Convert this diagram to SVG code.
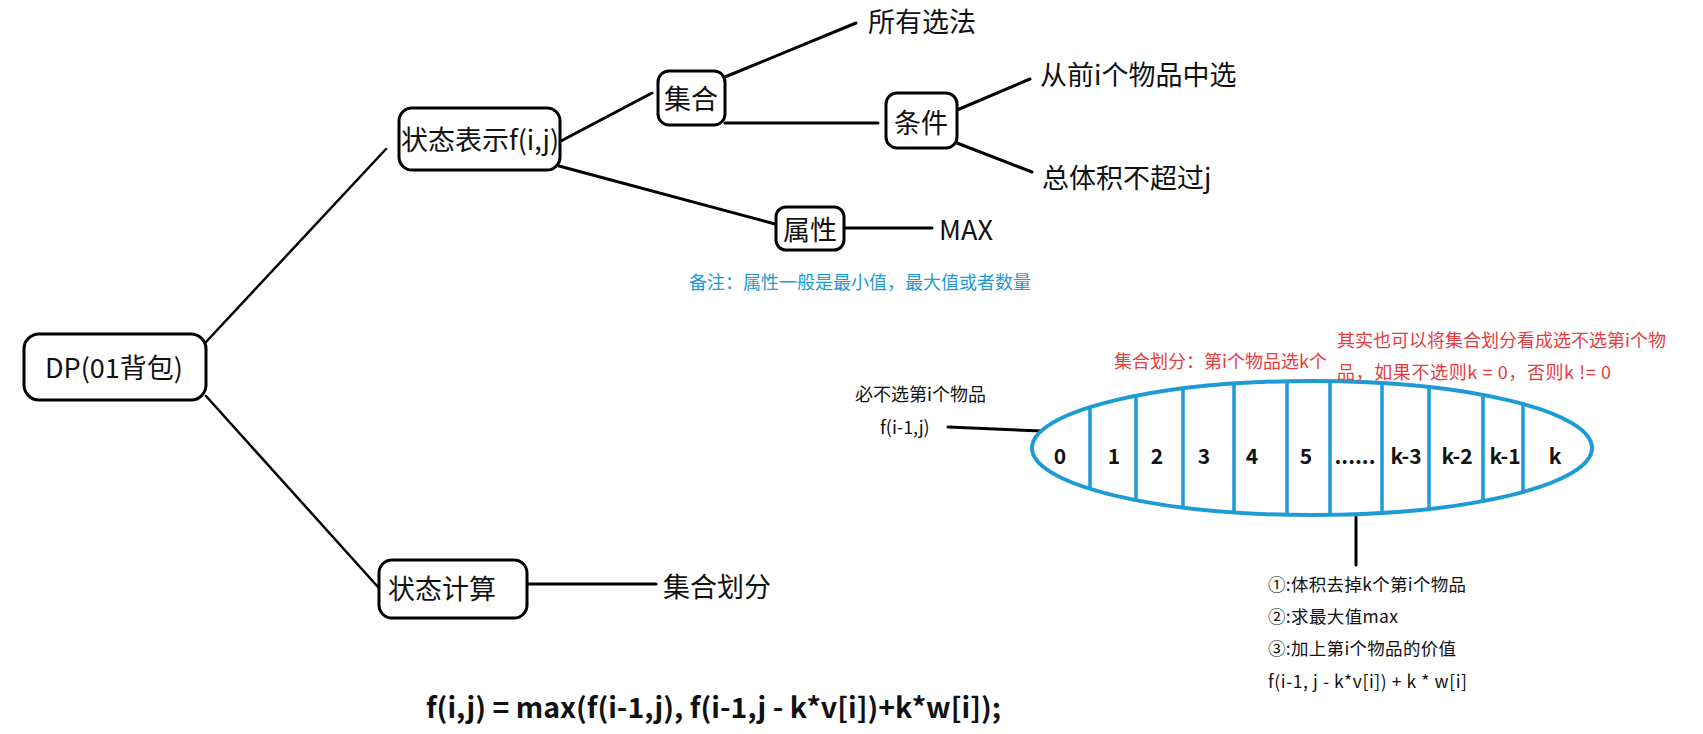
<svg xmlns="http://www.w3.org/2000/svg" width="1703" height="734" viewBox="0 0 1703 734">
<style>
text{font-family:"Noto Sans CJK SC","Noto Sans",sans-serif;dominant-baseline:central;fill:#111}
.box{fill:#fff;stroke:#000;stroke-width:3}
.big{font-size:27px}
.mid{font-size:18px}
.sm{font-size:17.5px}
.blue{fill:#1e9ad6}
.red{fill:#e53c3f}
.num{font-size:21px;font-weight:bold;text-anchor:middle}
.c{text-anchor:middle}
.ln{stroke:#000;stroke-width:3;fill:none;stroke-linecap:round}
.thin{stroke-width:2.5}
.bl{stroke:#1e9ad6;stroke-width:3.5;fill:none}
</style>
<defs>
<clipPath id="ell"><ellipse cx="1312" cy="448" rx="280" ry="67"/></clipPath>
</defs>
<rect width="1703" height="734" fill="#fff"/>
<g id="connectors">
<line class="ln thin" x1="206" y1="342" x2="386" y2="149"/>
<line class="ln thin" x1="206" y1="396" x2="378" y2="587"/>
<line class="ln" x1="559" y1="142" x2="652" y2="93"/>
<line class="ln" x1="559" y1="166" x2="775" y2="224"/>
<line class="ln" x1="725" y1="77" x2="856" y2="23"/>
<line class="ln" x1="725" y1="123" x2="878" y2="123"/>
<line class="ln" x1="957" y1="110" x2="1030" y2="79"/>
<line class="ln" x1="957" y1="143" x2="1032" y2="172"/>
<line class="ln" x1="844" y1="228" x2="932" y2="228"/>
<line class="ln" x1="527" y1="584" x2="656" y2="584"/>
<line class="ln" stroke-width="4" x1="948" y1="427" x2="1042" y2="431"/>
<line class="ln" stroke-width="4" x1="1356" y1="517" x2="1356" y2="565"/>
</g>
<g id="n-dp">
<rect class="box" x="24" y="334" width="182" height="66" rx="15"/>
<text class="big c" x="114" y="366">DP(01背包)</text>
</g>
<g id="n-state">
<rect class="box" x="399" y="108" width="161" height="62" rx="13"/>
<text class="big c" x="480" y="138">状态表示f(i,j)</text>
</g>
<g id="n-set">
<rect class="box" x="658" y="71" width="67" height="54" rx="11"/>
<text class="big c" x="691" y="97">集合</text>
</g>
<g id="n-all">
<text class="big" x="868" y="20">所有选法</text>
</g>
<g id="n-cond">
<rect class="box" x="886" y="93" width="71" height="55" rx="11"/>
<text class="big c" x="921" y="121">条件</text>
</g>
<g id="n-front">
<text class="big" x="1040" y="73">从前i个物品中选</text>
</g>
<g id="n-vol">
<text class="big" x="1042" y="176">总体积不超过j</text>
</g>
<g id="n-attr">
<rect class="box" x="776" y="207" width="68" height="43" rx="10"/>
<text class="big c" x="810" y="228">属性</text>
</g>
<g id="n-max">
<text class="big" x="939" y="228">MAX</text>
</g>
<text class="mid blue" x="689" y="281">备注：属性一般是最小值，最大值或者数量</text>
<g id="n-calc">
<rect class="box" x="379" y="560" width="148" height="58" rx="13"/>
<text class="big" x="388" y="587">状态计算</text>
</g>
<g id="n-part">
<text class="big" x="663" y="585">集合划分</text>
</g>
<g id="n-ellipse">
<g clip-path="url(#ell)">
<g class="bl">
<line x1="1090" y1="370" x2="1090" y2="530"/>
<line x1="1136" y1="370" x2="1136" y2="530"/>
<line x1="1183" y1="370" x2="1183" y2="530"/>
<line x1="1234" y1="370" x2="1234" y2="530"/>
<line x1="1287" y1="370" x2="1287" y2="530"/>
<line x1="1330" y1="370" x2="1330" y2="530"/>
<line x1="1382" y1="370" x2="1382" y2="530"/>
<line x1="1429" y1="370" x2="1429" y2="530"/>
<line x1="1483" y1="370" x2="1483" y2="530"/>
<line x1="1523" y1="370" x2="1523" y2="530"/>
</g>
</g>
<ellipse cx="1312" cy="448" rx="280" ry="67" fill="none" stroke="#1e9ad6" stroke-width="4"/>
<text class="num" x="1060" y="455">0</text>
<text class="num" x="1114" y="455">1</text>
<text class="num" x="1157" y="455">2</text>
<text class="num" x="1204" y="455">3</text>
<text class="num" x="1252" y="455">4</text>
<text class="num" x="1306" y="455">5</text>
<text class="num" x="1355" y="455">......</text>
<text class="num" x="1406" y="455">k-3</text>
<text class="num" x="1457" y="455">k-2</text>
<text class="num" x="1505" y="455">k-1</text>
<text class="num" x="1555" y="455">k</text>
</g>
<text class="mid" x="855" y="393">必不选第i个物品</text>
<text class="mid" x="880" y="426">f(i-1,j)</text>
<text class="mid red" x="1114" y="360">集合划分：第i个物品选k个</text>
<text class="mid red" x="1337" y="339">其实也可以将集合划分看成选不选第i个物</text>
<text class="mid red" x="1337" y="371" textLength="274">品，如果不选则k = 0，否则k != 0</text>
<text class="sm" x="1268" y="583" textLength="198">①:体积去掉k个第i个物品</text>
<text class="sm" x="1268" y="615" textLength="130">②:求最大值max</text>
<text class="sm" x="1268" y="647" textLength="188">③:加上第i个物品的价值</text>
<text class="sm" x="1268" y="680" textLength="199">f(i-1, j - k*v[i]) + k * w[i]</text>
<text x="426" y="706" font-size="28" font-weight="bold" textLength="575" lengthAdjust="spacingAndGlyphs">f(i,j) = max(f(i-1,j), f(i-1,j - k*v[i])+k*w[i]);</text>
</svg>
